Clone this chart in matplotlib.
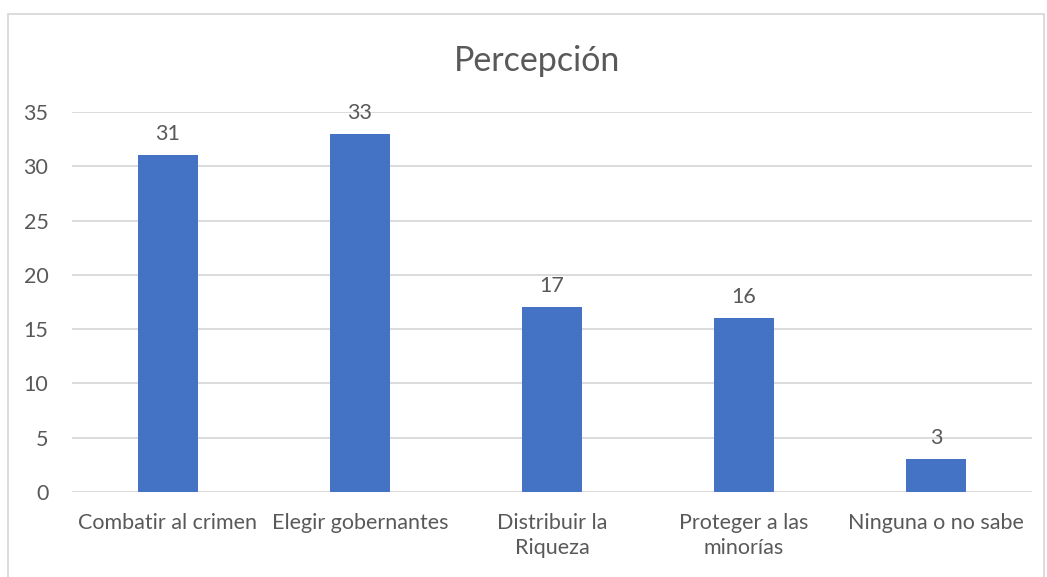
import matplotlib.pyplot as plt
from matplotlib.patches import Rectangle

categories = ["Combatir al crimen", "Elegir gobernantes", "Distribuir la\nRiqueza",
              "Proteger a las\nminorías", "Ninguna o no sabe"]
values = [31, 33, 17, 16, 3]
yticks = [0, 5, 10, 15, 20, 25, 30, 35]

text_color = "#595959"
bar_color = "#4472C4"
grid_color = "#D9D9D9"

plt.rcParams["font.family"] = ["Lato", "DejaVu Sans"]

fig = plt.figure(figsize=(10.47, 5.77), dpi=100)
ax = fig.add_axes([72 / 1047, 1 - 492 / 577, 960 / 1047, 380 / 577])

x = range(len(categories))
bars = ax.bar(x, values, width=0.3125, color=bar_color, zorder=3)
for rect, v in zip(bars, values):
    ax.annotate(str(v), (rect.get_x() + rect.get_width() / 2, v),
                xytext=(0, 8), textcoords="offset points",
                ha="center", va="bottom", fontsize=15.5, color=text_color)

ax.set_xlim(-0.5, len(categories) - 0.5)
ax.set_ylim(0, 35)
ax.set_yticks(yticks)
ax.set_xticks(list(x))
ax.set_xticklabels(categories, linespacing=1.35)
ax.yaxis.grid(True, color=grid_color, linewidth=1.3, zorder=0)
ax.tick_params(axis="both", length=0, labelsize=15.5, labelcolor=text_color)
ax.tick_params(axis="x", pad=15)
ax.tick_params(axis="y", pad=17)
for s in ax.spines.values():
    s.set_visible(False)

fig.text(537 / 1047, 1 - 61 / 577, "Percepción", ha="center", va="center",
         fontsize=24.5, color=text_color)

fig.patches.append(Rectangle((8 / 1047, -0.02), 1036 / 1047, 1 - 14 / 577 + 0.02,
                             transform=fig.transFigure, fill=False,
                             edgecolor=grid_color, linewidth=1.3))

fig.savefig("out.png", dpi=100)
